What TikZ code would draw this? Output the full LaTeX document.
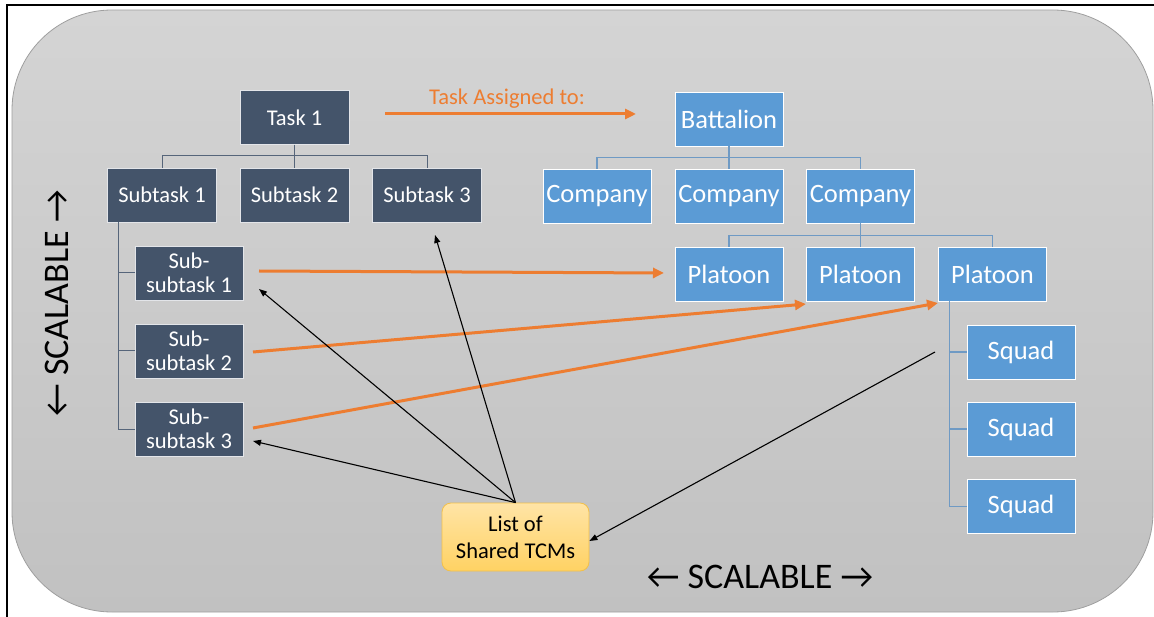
\documentclass[tikz,border=0pt]{standalone}
\usepackage{fontspec}
\setmainfont{Carlito}
\usetikzlibrary{arrows.meta}
\definecolor{dkc}{HTML}{44546A}
\definecolor{blc}{HTML}{5B9BD5}
\definecolor{orc}{HTML}{ED7D31}
\definecolor{bgtop}{HTML}{D4D4D4}
\definecolor{bgbot}{HTML}{C1C1C1}
\definecolor{dkline}{HTML}{56657A}
\definecolor{blline}{HTML}{6F9AC4}
\definecolor{ltop}{HTML}{FFE4A6}
\definecolor{lbot}{HTML}{FFD263}
\definecolor{ledge}{HTML}{F2C04A}

\tikzset{
  dkbox/.style={fill=dkc, draw=white!85!dkc, line width=0.8pt, text=white, inner sep=0pt,
    minimum width=109pt, minimum height=54pt, align=center,
    font=\fontsize{22.5}{23.5}\selectfont},
  blbox/.style={fill=blc, draw=white, line width=0.8pt, text=white, inner sep=0pt,
    minimum width=108pt, minimum height=54pt, align=center,
    font=\fontsize{26.5}{28}\selectfont},
  dktree/.style={draw=dkline, line width=1pt},
  bltree/.style={draw=blline, line width=1.2pt},
  orarrow/.style={draw=orc, line width=3pt, -{Triangle[length=11pt,width=10pt]}},
  bkarrow/.style={draw=black, line width=1.1pt, -{Triangle[length=8pt,width=6pt]}},
  listbox/.style={top color=ltop, bottom color=lbot, draw=ledge, line width=0.8pt,
    rounded corners=9pt, minimum width=147pt, minimum height=68pt, inner sep=0pt,
    align=center, text=black, font=\fontsize{22.5}{27}\selectfont},
  scal/.style={text=black, inner sep=0pt, font=\fontsize{36}{38}\selectfont}
}

\begin{document}
\begin{tikzpicture}[x=1pt,y=-1pt]
\useasboundingbox (0,0) rectangle (1154,617);

% panel
\shade[top color=bgtop, bottom color=bgbot, draw=gray!75, line width=0.8pt, rounded corners=100pt]
  (12,10) rectangle (1153,612);
\draw[line width=2pt] (1154,5) -- (7,5) -- (7,617);

% task hierarchy
\node[dkbox] (t1) at (294.5,117.5) {Task 1};
\node[dkbox] (s1) at (162,195) {Subtask 1};
\node[dkbox] (s2) at (294.5,195) {Subtask 2};
\node[dkbox] (s3) at (427,195) {Subtask 3};
\node[dkbox, minimum width=108pt] (ss1) at (189,273) {Sub-\\subtask 1};
\node[dkbox, minimum width=108pt] (ss2) at (189,351) {Sub-\\subtask 2};
\node[dkbox, minimum width=108pt] (ss3) at (189,429) {Sub-\\subtask 3};

\draw[dktree] (t1.south) -- ++(0,11) -| (s1.north);
\draw[dktree] (t1.south) -- ++(0,11) -| (s3.north);
\draw[dktree] (t1.south) -- (s2.north);
\draw[dktree] ([xshift=11pt]s1.south west) |- (ss3.west);
\draw[dktree] ([xshift=11pt]s1.south west) |- (ss2.west);
\draw[dktree] ([xshift=11pt]s1.south west) |- (ss1.west);

% unit hierarchy
\node[blbox] (bat) at (729,119) {Battalion};
\node[blbox] (c1) at (597,196) {Company};
\node[blbox] (c2) at (729,196) {Company};
\node[blbox] (c3) at (860.5,196) {Company};
\node[blbox] (p1) at (729,274) {Platoon};
\node[blbox] (p2) at (860.5,274) {Platoon};
\node[blbox] (p3) at (992.5,274) {Platoon};
\node[blbox] (q1) at (1021,352) {Squad};
\node[blbox] (q2) at (1021,429) {Squad};
\node[blbox] (q3) at (1021,506.5) {Squad};

\draw[bltree] (bat.south) -- ++(0,11) -| (c1.north);
\draw[bltree] (bat.south) -- ++(0,11) -| (c3.north);
\draw[bltree] (bat.south) -- (c2.north);
\draw[bltree] (c3.south) -- ++(0,12) -| (p1.north);
\draw[bltree] (c3.south) -- ++(0,12) -| (p3.north);
\draw[bltree] (c3.south) -- (p2.north);
\draw[bltree] ([xshift=11pt]p3.south west) |- (q3.west);
\draw[bltree] ([xshift=11pt]p3.south west) |- (q2.west);
\draw[bltree] ([xshift=11pt]p3.south west) |- (q1.west);

% assignment arrows
\coordinate (ta) at (385,114);
\coordinate (tb) at (636,114);
\draw[orarrow] (ta) -- (tb);
\node[text=orc, inner sep=0pt, font=\fontsize{22.5}{24}\selectfont] (tlab) at (507,99) {Task Assigned to:};

\coordinate (o1a) at (259,271);
\coordinate (o1b) at (664,273);
\coordinate (o2a) at (253,352);
\coordinate (o2b) at (806,304);
\coordinate (o3a) at (253,428);
\coordinate (o3b) at (938,303);
\draw[orarrow] (o1a) -- (o1b);
\draw[orarrow] (o2a) -- (o2b);
\draw[orarrow] (o3a) -- (o3b);

% shared list
\node[listbox] (lst) at (515.5,537) {List of\\Shared TCMs};
\coordinate (k1) at (259,289);
\coordinate (k2) at (435,235);
\coordinate (k3) at (253,441);
\coordinate (k4) at (935,352);
\draw[bkarrow] (lst.north) -- (k1);
\draw[bkarrow] (lst.north) -- (k2);
\draw[bkarrow] (lst.north) -- (k3);
\draw[bkarrow] (k4) -- ([yshift=-4pt]lst.east);

% scalability labels
\node[scal, rotate=90] (sv) at (57,303.5) {← SCALABLE →};
\node[scal] (sh) at (760,577) {← SCALABLE →};
\end{tikzpicture}
\end{document}
